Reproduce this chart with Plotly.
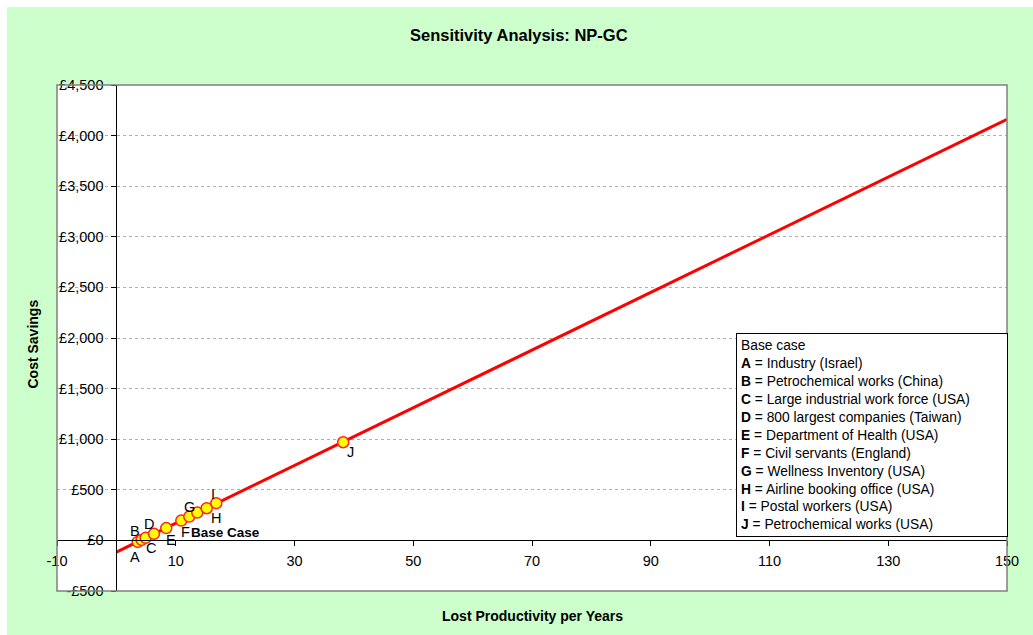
import plotly.graph_objects as go

# ---------------- data ----------------
POINT_LABELS = ["A", "B", "C", "D", "E", "F", "G", "Base Case", "H", "I", "J"]
POINT_X = [3.6, 4.26, 4.93, 6.33, 8.40, 10.93, 12.28, 13.63, 15.21, 16.83, 38.2]
POINT_Y = [-15, 5, 25, 65, 122, 196, 235, 275, 318, 368, 970]

LINE_X = [0, 150]
LINE_Y = [-115, 4161]

X_TICKS = [-10, 10, 30, 50, 70, 90, 110, 130, 150]
X_TICK_LABELS = ["-10", "10", "30", "50", "70", "90", "110", "130", "150"]
Y_TICKS = [-500, 0, 500, 1000, 1500, 2000, 2500, 3000, 3500, 4000, 4500]
Y_TICK_LABELS = ["-£500", "£0", "£500", "£1,000", "£1,500", "£2,000", "£2,500",
                 "£3,000", "£3,500", "£4,000", "£4,500"]

LEGEND_TITLE = "Base case"
LEGEND_KEYS = ["A", "B", "C", "D", "E", "F", "G", "H", "I", "J"]
LEGEND_NAMES = ["Industry (Israel)", "Petrochemical works (China)",
                "Large industrial work force (USA)", "800 largest companies (Taiwan)",
                "Department of Health (USA)", "Civil servants (England)",
                "Wellness Inventory (USA)", "Airline booking office (USA)",
                "Postal workers (USA)", "Petrochemical works (USA)"]

TITLE = "Sensitivity Analysis: NP-GC"
X_TITLE = "Lost Productivity per Years"
Y_TITLE = "Cost Savings"

# ---------------- layout helpers ----------------
W, H = 1033, 635
L, R, T, B = 57, 26, 85, 44
PW, PH = W - L - R, H - T - B
FONT = "Liberation Sans, Arial, sans-serif"


def px(xp):
    return (xp - L) / PW


def py(yp):
    return (H - B - yp) / PH


fig = go.Figure()

fig.add_trace(go.Scatter(x=LINE_X, y=LINE_Y, mode="lines",
                         line=dict(color="#FF0000", width=3),
                         hoverinfo="skip", showlegend=False))
fig.add_trace(go.Scatter(x=POINT_X, y=POINT_Y, mode="markers",
                         marker=dict(size=11, color="#FFFF00",
                                     line=dict(color="#FF2020", width=1.5)),
                         showlegend=False))

# label offsets (screen px: dx right, dy down)
OFFSETS = {
    "A": (-3, 15), "B": (-7, -9), "C": (5, 10), "D": (-5, -10),
    "E": (5, 12), "F": (4, 11), "G": (0, -10), "H": (9, 10),
    "I": (-3, -9), "J": (7, 10),
}
LABEL_SIZE = 14.5
annotations = []
for lab, xv, yv in zip(POINT_LABELS, POINT_X, POINT_Y):
    if lab == "Base Case":
        annotations.append(dict(x=xv, y=yv, xref="x", yref="y", text="<b>Base Case</b>",
                                showarrow=False, xanchor="left", yanchor="middle",
                                xshift=-8, yshift=-20,
                                font=dict(family=FONT, size=13.5, color="#000")))
    else:
        dx, dy = OFFSETS[lab]
        annotations.append(dict(x=xv, y=yv, xref="x", yref="y", text=lab,
                                showarrow=False, xanchor="center", yanchor="middle",
                                xshift=dx, yshift=-dy,
                                font=dict(family=FONT, size=LABEL_SIZE, color="#000")))

legend_lines = [LEGEND_TITLE] + [f"<b>{k}</b> = {n}" for k, n in zip(LEGEND_KEYS, LEGEND_NAMES)]
annotations.append(dict(x=px(736), y=py(333), xref="paper", yref="paper",
                        xanchor="left", yanchor="top", showarrow=False,
                        text="<br>".join(legend_lines), align="left",
                        width=262, bordercolor="#000", borderwidth=1, borderpad=4,
                        bgcolor="#FFFFFF",
                        font=dict(family=FONT, size=13.8, color="#000")))

annotations.append(dict(x=px(518.5), y=py(35), xref="paper", yref="paper",
                        text=f"<b>{TITLE}</b>", showarrow=False,
                        xanchor="center", yanchor="middle",
                        font=dict(family=FONT, size=16.5, color="#000")))
annotations.append(dict(x=px(532), y=py(615.5), xref="paper", yref="paper",
                        text=f"<b>{X_TITLE}</b>", showarrow=False,
                        xanchor="center", yanchor="middle",
                        font=dict(family=FONT, size=14, color="#000")))
annotations.append(dict(x=px(32), y=py(344.5), xref="paper", yref="paper",
                        text=f"<b>{Y_TITLE}</b>", showarrow=False, textangle=-90,
                        xanchor="center", yanchor="middle",
                        font=dict(family=FONT, size=14, color="#000")))

shapes = [
    dict(type="rect", xref="paper", yref="paper", x0=px(7), x1=px(W + 5),
         y0=py(H + 5), y1=py(7), fillcolor="#CCFFCC", line=dict(width=0), layer="below"),
    dict(type="rect", xref="paper", yref="paper", x0=0, x1=1, y0=0, y1=1,
         fillcolor="#FFFFFF", line=dict(width=0), layer="below"),
    dict(type="rect", xref="paper", yref="paper", x0=0, x1=1, y0=0, y1=1,
         fillcolor="rgba(0,0,0,0)", line=dict(color="#808080", width=1.5), layer="above"),
]

TICK_SIZE = 14.5
fig.update_layout(
    width=W, height=H,
    margin=dict(l=L, r=R, t=T, b=B, pad=0),
    paper_bgcolor="#FFFFFF", plot_bgcolor="rgba(0,0,0,0)",
    font=dict(family=FONT, size=13.5, color="#000"),
    showlegend=False,
    annotations=annotations,
    shapes=shapes,
    xaxis=dict(range=[-10, 150], anchor="free", position=0.1,
               tickvals=X_TICKS, ticktext=X_TICK_LABELS,
               ticks="outside", ticklen=5, tickcolor="#000", tickwidth=1,
               ticklabelstandoff=2,
               showline=True, linecolor="#000", linewidth=1,
               showgrid=False, zeroline=False,
               tickfont=dict(family=FONT, size=TICK_SIZE, color="#000")),
    yaxis=dict(range=[-500, 4500], anchor="free", position=10 / 160,
               tickvals=Y_TICKS, ticktext=Y_TICK_LABELS,
               ticks="outside", ticklen=5, tickcolor="#000", tickwidth=1,
               ticklabelstandoff=5,
               showline=True, linecolor="#000", linewidth=1,
               showgrid=True, gridcolor="#B0B0B0", griddash="dot", gridwidth=1,
               zeroline=False,
               tickfont=dict(family=FONT, size=TICK_SIZE, color="#000")),
)

fig.write_html("out.html")
